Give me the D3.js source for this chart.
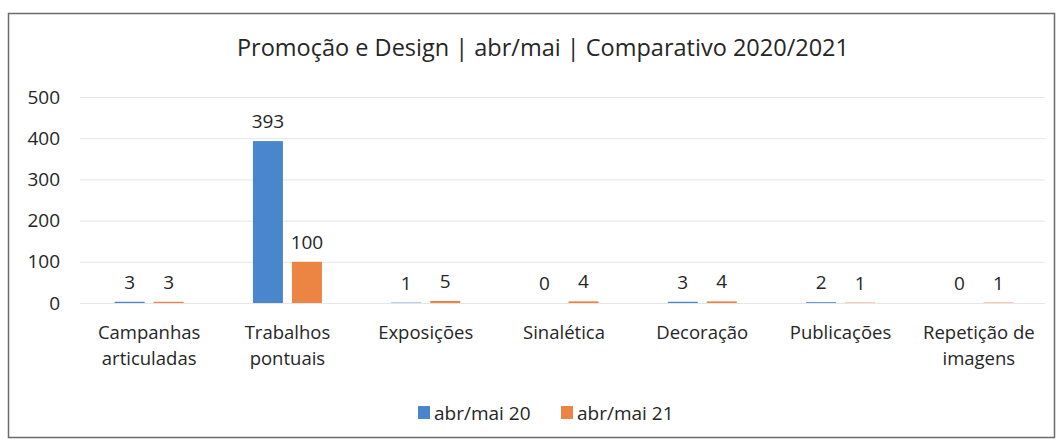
<!DOCTYPE html>
<html>
<head>
<meta charset="utf-8">
<script src="https://cdn.jsdelivr.net/npm/d3@7"></script>
<style>
  body { margin: 0; background: #fff; }
  svg text { font-family: "Open Sans", "Noto Sans", sans-serif; fill: #262626; }
</style>
</head>
<body>
<svg id="chart" width="1063" height="441"></svg>
<script>
// dados do gráfico
const categories = [
  ["Campanhas", "articuladas"],
  ["Trabalhos", "pontuais"],
  ["Exposições"],
  ["Sinalética"],
  ["Decoração"],
  ["Publicações"],
  ["Repetição de", "imagens"]
];
const seriesNames = ["abr/mai 20", "abr/mai 21"];
const values2020 = [3, 393, 1, 0, 3, 2, 0];
const values2021 = [3, 100, 5, 4, 4, 1, 1];
const yTicks = [0, 100, 200, 300, 400, 500];
const colors = ["#4a86cc", "#ec8444"];

const svg = d3.select("#chart");

// moldura
svg.append("rect")
  .attr("x", 8.5).attr("y", 13.5)
  .attr("width", 1046).attr("height", 424)
  .attr("fill", "#fff")
  .attr("stroke", "#6b6b6b")
  .attr("stroke-width", 1.5);

svg.append("text")
  .attr("x", 543).attr("y", 56)
  .attr("text-anchor", "middle")
  .style("font-size", "23.5px")
  .text("Promoção e Design | abr/mai | Comparativo 2020/2021");

const x = d3.scaleBand()
  .domain(d3.range(categories.length))
  .range([80, 1048]);

const y = d3.scaleLinear().domain([0, 500]).range([303, 97]);

// grelha
svg.append("g").selectAll("line")
  .data(yTicks)
  .join("line")
  .attr("x1", 80).attr("x2", 1045)
  .attr("y1", d => y(d) + 0.5).attr("y2", d => y(d) + 0.5)
  .attr("stroke", "#e6e6e6")
  .attr("stroke-width", 1);

svg.append("g").selectAll("text")
  .data(yTicks)
  .join("text")
  .attr("x", 60).attr("y", d => y(d))
  .attr("dy", "0.35em")
  .attr("text-anchor", "end")
  .style("font-size", "19px")
  .text(d => d);

const series = [values2020, values2021];
const barW = 30, offset = 19.5;

series.forEach((vals, s) => {
  const cx = i => x(i) + x.bandwidth() / 2 + (s === 0 ? -offset : offset);
  svg.append("g").selectAll("rect")
    .data(vals)
    .join("rect")
    .attr("x", (d, i) => cx(i) - barW / 2)
    .attr("width", barW)
    .attr("y", d => y(d))
    .attr("height", d => y(0) - y(d))
    .attr("fill", colors[s]);

  svg.append("g").selectAll("text")
    .data(vals)
    .join("text")
    .attr("x", (d, i) => cx(i))
    .attr("y", d => y(d) - 13)
    .attr("text-anchor", "middle")
    .style("font-size", "19px")
    .text(d => d);
});

// rótulos das categorias
const catG = svg.append("g");
categories.forEach((lines, i) => {
  const t = catG.append("text")
    .attr("x", x(i) + x.bandwidth() / 2)
    .attr("y", 339)
    .attr("text-anchor", "middle")
    .style("font-size", "18.5px");
  lines.forEach((l, j) => {
    t.append("tspan")
      .attr("x", x(i) + x.bandwidth() / 2)
      .attr("dy", j === 0 ? 0 : 26)
      .text(l);
  });
});

// legenda
const legend = svg.append("g");
const legendX = [418, 561];
seriesNames.forEach((n, s) => {
  legend.append("rect")
    .attr("x", legendX[s]).attr("y", 406)
    .attr("width", 12).attr("height", 13)
    .attr("fill", colors[s]);
  legend.append("text")
    .attr("x", legendX[s] + 16).attr("y", 420)
    .style("font-size", "19px")
    .text(n);
});
</script>
</body>
</html>
